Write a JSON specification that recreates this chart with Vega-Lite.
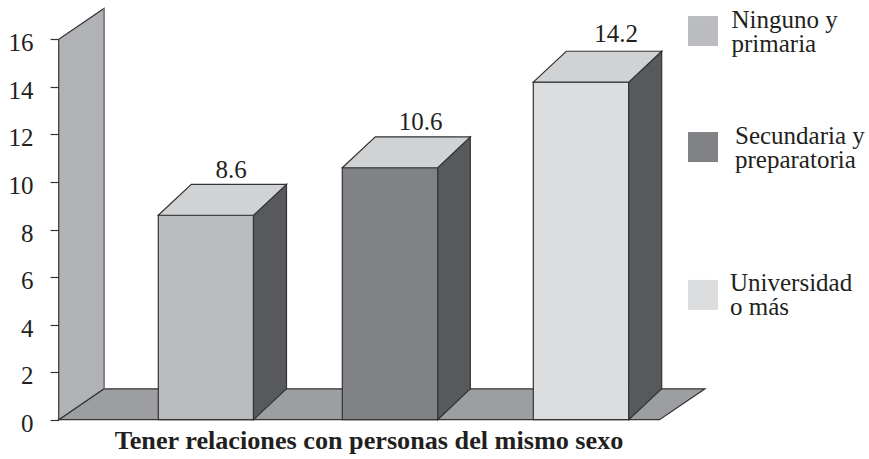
{"$schema":"https://vega.github.io/schema/vega-lite/v6.json","width":810.3,"height":419.7,"autosize":{"type":"none"},"padding":{"left":58.7,"top":0,"right":0,"bottom":39.3},"background":"white","config":{"view":{"stroke":null},"font":"Liberation Serif"},"datasets":{"caras":[{"id":"suelo","cara":"suelo","x":58.7,"y":0,"y2":0},{"id":"suelo","cara":"suelo","x":104,"y":0,"y2":1.3},{"id":"suelo","cara":"suelo","x":659.5,"y":0,"y2":1.3},{"id":"suelo","cara":"suelo","x":705,"y":1.3,"y2":1.3},{"id":"pared","cara":"pared","x":58.7,"y":0,"y2":16},{"id":"pared","cara":"pared","x":104,"y":1.3,"y2":17.3}],"caras3d":[{"id":"l1","cara":"lado","x":253.5,"y":0,"y2":8.6},{"id":"l1","cara":"lado","x":286.5,"y":1.3,"y2":9.9},{"id":"l2","cara":"lado","x":437.7,"y":0,"y2":10.6},{"id":"l2","cara":"lado","x":470.3,"y":1.3,"y2":11.9},{"id":"l3","cara":"lado","x":628.7,"y":0,"y2":14.2},{"id":"l3","cara":"lado","x":661.7,"y":1.3,"y2":15.5},{"id":"t1","cara":"tapa","x":158.3,"y":8.6,"y2":8.6},{"id":"t1","cara":"tapa","x":191.3,"y":8.6,"y2":9.9},{"id":"t1","cara":"tapa","x":253.5,"y":8.6,"y2":9.9},{"id":"t1","cara":"tapa","x":286.5,"y":9.9,"y2":9.9},{"id":"t2","cara":"tapa","x":342.3,"y":10.6,"y2":10.6},{"id":"t2","cara":"tapa","x":375.3,"y":10.6,"y2":11.9},{"id":"t2","cara":"tapa","x":437.7,"y":10.6,"y2":11.9},{"id":"t2","cara":"tapa","x":470.3,"y":11.9,"y2":11.9},{"id":"t3","cara":"tapa","x":533.3,"y":14.2,"y2":14.2},{"id":"t3","cara":"tapa","x":566.3,"y":14.2,"y2":15.5},{"id":"t3","cara":"tapa","x":628.7,"y":14.2,"y2":15.5},{"id":"t3","cara":"tapa","x":661.7,"y":15.5,"y2":15.5}]},"layer":[{"data":{"name":"caras"},"mark":{"type":"area","orient":"vertical","stroke":"#333436","strokeWidth":1.2,"interpolate":"linear"},"encoding":{"x":{"field":"x","type":"quantitative","scale":{"domain":[58.7,869],"nice":false,"zero":false,"padding":0},"axis":{"title":"Tener relaciones con personas del mismo sexo","labels":false,"ticks":false,"domain":false,"grid":false,"titleFont":"Liberation Serif","titleFontSize":26.2,"titleFontWeight":"bold","titleColor":"#231f20","titleX":309.8,"titleY":28.3,"titleBaseline":"alphabetic","titleAnchor":"middle","titleAlign":"center"}},"y":{"field":"y","type":"quantitative","scale":{"domain":[0,17.656],"nice":false,"padding":0},"axis":{"title":null,"values":[0,2,4,6,8,10,12,14,16],"grid":false,"domain":false,"tickColor":"#333436","tickSize":8.7,"tickWidth":1.2,"labelFont":"Liberation Serif","labelFontSize":25,"labelColor":"#231f20","labelPadding":17,"labelOffset":3.5}},"y2":{"field":"y2"},"fill":{"field":"cara","type":"nominal","scale":{"domain":["suelo","pared","lado","tapa"],"range":["#9d9ea1","#b1b2b5","#58595b","#d1d2d4"]},"legend":null},"detail":{"field":"id"}}},{"data":{"values":[{"x":104,"y":1.3,"y2":17.3}]},"mark":{"type":"rule","color":"#808285","strokeWidth":2},"encoding":{"x":{"field":"x","type":"quantitative"},"y":{"field":"y","type":"quantitative"},"y2":{"field":"y2"}}},{"data":{"values":[{"nivel":"Ninguno y primaria","x":158.3,"x2":253.5,"valor":8.6,"base":0},{"nivel":"Secundaria y preparatoria","x":342.3,"x2":437.7,"valor":10.6,"base":0},{"nivel":"Universidad o más","x":533.3,"x2":628.7,"valor":14.2,"base":0}]},"mark":{"type":"rect","stroke":"#333436","strokeWidth":1.2},"encoding":{"x":{"field":"x","type":"quantitative"},"x2":{"field":"x2"},"y":{"field":"valor","type":"quantitative"},"y2":{"field":"base"},"color":{"field":"nivel","type":"nominal","scale":{"domain":["Ninguno y primaria","Secundaria y preparatoria","Universidad o más"],"range":["#bbbcc0","#808285","#dcddde"]},"legend":null}}},{"data":{"name":"caras3d"},"mark":{"type":"area","orient":"vertical","stroke":"#333436","strokeWidth":1.2,"interpolate":"linear"},"encoding":{"x":{"field":"x","type":"quantitative"},"y":{"field":"y","type":"quantitative"},"y2":{"field":"y2"},"fill":{"field":"cara","type":"nominal","legend":null},"detail":{"field":"id"}}},{"data":{"values":[{"x":231,"y":10.17,"t":"8.6"},{"x":420.7,"y":12.19,"t":"10.6"},{"x":616,"y":15.9,"t":"14.2"}]},"mark":{"type":"text","font":"Liberation Serif","fontSize":25,"color":"#231f20","align":"center","baseline":"alphabetic"},"encoding":{"x":{"field":"x","type":"quantitative"},"y":{"field":"y","type":"quantitative"},"text":{"field":"t"}}},{"data":{"values":[{"nivel":"Ninguno y primaria","x":703,"y":16.35},{"nivel":"Secundaria y preparatoria","x":703,"y":11.47},{"nivel":"Universidad o más","x":703,"y":5.25}]},"mark":{"type":"point","shape":"square","filled":true,"opacity":1,"size":900,"strokeWidth":0},"encoding":{"x":{"field":"x","type":"quantitative"},"y":{"field":"y","type":"quantitative"},"color":{"field":"nivel","type":"nominal","legend":null}}},{"data":{"values":[{"x":731.5,"y":16.48,"t":"Ninguno y|primaria"},{"x":735,"y":11.6,"t":"Secundaria y|preparatoria"},{"x":730,"y":5.43,"t":"Universidad|o más"}]},"mark":{"type":"text","font":"Liberation Serif","fontSize":25,"color":"#231f20","align":"left","baseline":"alphabetic","lineBreak":"|","lineHeight":24},"encoding":{"x":{"field":"x","type":"quantitative"},"y":{"field":"y","type":"quantitative"},"text":{"field":"t"}}}]}
